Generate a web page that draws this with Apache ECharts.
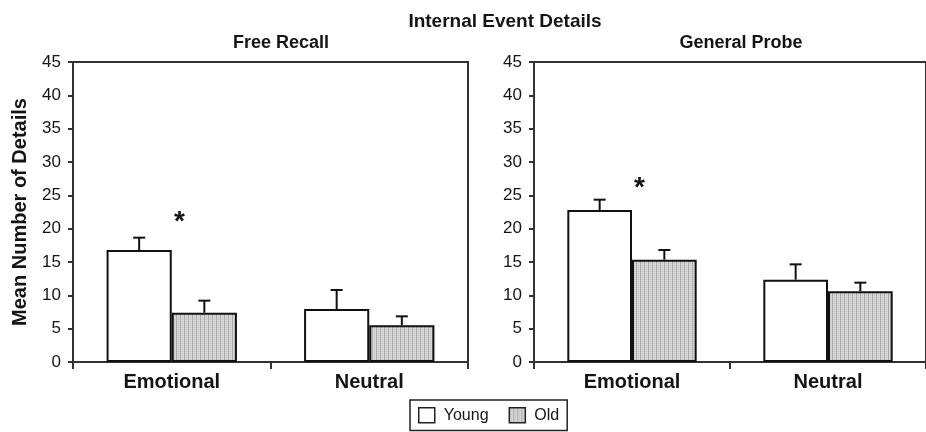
<!DOCTYPE html>
<html>
<head>
<meta charset="utf-8">
<script src="https://cdn.jsdelivr.net/npm/echarts@6/dist/echarts.min.js"></script>
<style>
html,body{margin:0;padding:0;background:#fff;}
#c{width:926px;height:432px;}
</style>
</head>
<body>
<div id="c"></div>
<script>
// ---- data ----
const categories = ['Emotional', 'Neutral'];
const seriesNames = ['Young', 'Old'];
const mainTitle = 'Internal Event Details';
const panelTitles = ['Free Recall', 'General Probe'];
const yAxisName = 'Mean Number of Details';
const yTicks = [0, 5, 10, 15, 20, 25, 30, 35, 40, 45];

const freeYoung = [16.8, 7.95];
const freeYoungErr = [1.85, 2.85];
const freeOld = [7.4, 5.5];
const freeOldErr = [1.8, 1.35];

const probeYoung = [22.8, 12.35];
const probeYoungErr = [1.55, 2.3];
const probeOld = [15.35, 10.6];
const probeOldErr = [1.45, 1.3];

// significance markers: [category index, value level]
const freeSig = [[0, 21.0]];
const probeSig = [[0, 26.1]];

// ---- styling ----
const FONT = "'Liberation Sans', Arial, sans-serif";
const AX = '#333';
const TXT = '#141414';

function makePattern() {
  const c = document.createElement('canvas');
  c.width = 4; c.height = 4;
  const g = c.getContext('2d');
  g.fillStyle = '#d8d8d8'; g.fillRect(0, 0, 4, 4);
  g.fillStyle = '#a9a9a9'; g.fillRect(0, 0, 1, 4);
  g.fillStyle = '#c0c0c0'; g.fillRect(2, 1, 1, 1); g.fillRect(2, 3, 1, 1);
  return c;
}
const pattern = { image: makePattern(), repeat: 'repeat' };

const BAR_FRAC = 0.33;

function errRender(sign) {
  return function (params, api) {
    const x = api.value(0), v = api.value(1), e = api.value(2);
    const base = api.coord([x, v]);
    const top = api.coord([x, v + e]);
    const bw = api.size([1, 0])[0] * BAR_FRAC;
    const cx = base[0] + sign * bw / 2;
    return {
      type: 'group',
      children: [
        { type: 'line', shape: { x1: cx, y1: base[1], x2: cx, y2: top[1] }, style: { stroke: '#111', lineWidth: 2 } },
        { type: 'line', shape: { x1: cx - 6, y1: top[1], x2: cx + 6, y2: top[1] }, style: { stroke: '#111', lineWidth: 2 } }
      ]
    };
  };
}

function errData(vals, errs) {
  return vals.map((v, i) => [i, v, errs[i]]);
}

function sigMark(list) {
  return {
    symbol: 'circle', symbolSize: 1,
    itemStyle: { color: 'rgba(0,0,0,0)' },
    label: { show: true, formatter: '*', position: 'inside', offset: [-25, 0], fontSize: 28, fontWeight: 'bold', color: TXT, fontFamily: FONT },
    data: list.map(s => ({ coord: [s[0], s[1]] }))
  };
}

function xAxis(gi) {
  return {
    type: 'category', gridIndex: gi, data: categories,
    axisLine: { lineStyle: { color: AX, width: 2 } },
    axisTick: { show: true, length: 7, lineStyle: { color: AX, width: 2 } },
    axisLabel: { fontSize: 20, fontWeight: 'bold', color: TXT, fontFamily: FONT, margin: 10 }
  };
}
function yAxis(gi, named) {
  const o = {
    type: 'value', gridIndex: gi, min: yTicks[0], max: yTicks[yTicks.length - 1], interval: yTicks[1] - yTicks[0],
    axisLine: { show: true, lineStyle: { color: AX, width: 2 } },
    axisTick: { show: true, length: 5, lineStyle: { color: AX, width: 2 } },
    axisLabel: { fontSize: 17, color: TXT, fontFamily: FONT, margin: 12 },
    splitLine: { show: false }
  };
  if (named) {
    o.name = yAxisName;
    o.nameLocation = 'middle';
    o.nameGap = 43;
    o.nameTextStyle = { fontSize: 20, fontWeight: 'bold', color: TXT, fontFamily: FONT };
  }
  return o;
}

const youngStyle = { color: '#ffffff', borderColor: '#111', borderWidth: 2 };
const oldStyle = { color: pattern, borderColor: '#111', borderWidth: 2 };

const option = {
  animation: false,
  backgroundColor: '#fff',
  title: [
    { text: mainTitle, left: 500, top: 7, textAlign: 'center', textStyle: { fontSize: 19, fontWeight: 'bold', color: TXT, fontFamily: FONT } },
    { text: panelTitles[0], left: 276, top: 29, textAlign: 'center', textStyle: { fontSize: 18, fontWeight: 'bold', color: TXT, fontFamily: FONT } },
    { text: panelTitles[1], left: 736, top: 29, textAlign: 'center', textStyle: { fontSize: 18, fontWeight: 'bold', color: TXT, fontFamily: FONT } }
  ],
  legend: {
    data: seriesNames,
    left: 410, top: 400,
    padding: [7, 8, 7, 8],
    icon: 'rect',
    itemWidth: 16, itemHeight: 15, itemGap: 20,
    borderColor: '#222', borderWidth: 1.5,
    itemStyle: { borderColor: '#222', borderWidth: 1.5 },
    textStyle: { fontSize: 16, color: TXT, fontFamily: FONT, padding: [0, 0, 0, 4] }
  },
  grid: [
    { left: 73, width: 395, top: 62, height: 300, show: true, borderColor: AX, borderWidth: 2, backgroundColor: 'transparent' },
    { left: 534, width: 398, top: 62, height: 300, show: true, borderColor: AX, borderWidth: 2, backgroundColor: 'transparent' }
  ],
  xAxis: [xAxis(0), xAxis(1)],
  yAxis: [yAxis(0, true), yAxis(1, false)],
  series: [
    { name: seriesNames[0], type: 'bar', xAxisIndex: 0, yAxisIndex: 0, data: freeYoung, barWidth: (BAR_FRAC * 100) + '%', barGap: '0%', itemStyle: youngStyle },
    { name: seriesNames[1], type: 'bar', xAxisIndex: 0, yAxisIndex: 0, data: freeOld, barWidth: (BAR_FRAC * 100) + '%', barGap: '0%', itemStyle: oldStyle, markPoint: sigMark(freeSig) },
    { name: seriesNames[0], type: 'bar', xAxisIndex: 1, yAxisIndex: 1, data: probeYoung, barWidth: (BAR_FRAC * 100) + '%', barGap: '0%', itemStyle: youngStyle },
    { name: seriesNames[1], type: 'bar', xAxisIndex: 1, yAxisIndex: 1, data: probeOld, barWidth: (BAR_FRAC * 100) + '%', barGap: '0%', itemStyle: oldStyle, markPoint: sigMark(probeSig) },
    { type: 'custom', xAxisIndex: 0, yAxisIndex: 0, renderItem: errRender(-1), data: errData(freeYoung, freeYoungErr), z: 5, silent: true },
    { type: 'custom', xAxisIndex: 0, yAxisIndex: 0, renderItem: errRender(1), data: errData(freeOld, freeOldErr), z: 5, silent: true },
    { type: 'custom', xAxisIndex: 1, yAxisIndex: 1, renderItem: errRender(-1), data: errData(probeYoung, probeYoungErr), z: 5, silent: true },
    { type: 'custom', xAxisIndex: 1, yAxisIndex: 1, renderItem: errRender(1), data: errData(probeOld, probeOldErr), z: 5, silent: true }
  ]
};

const chart = echarts.init(document.getElementById('c'), null, { renderer: 'canvas' });
chart.setOption(option);
</script>
</body>
</html>
